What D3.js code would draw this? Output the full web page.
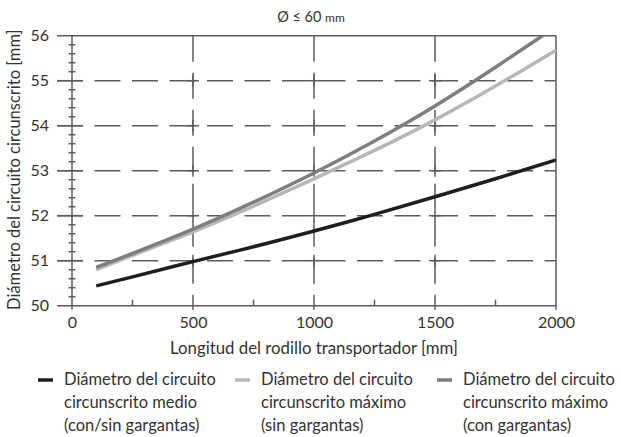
<!DOCTYPE html>
<html>
<head>
<meta charset="utf-8">
<script src="https://cdn.jsdelivr.net/npm/d3@7"></script>
<style>
  body { margin: 0; background: #fff; }
  text { font-family: Lato, "Open Sans", sans-serif; fill: #333; }
</style>
</head>
<body>
<div id="chart"></div>
<script>
const fig_width = 621
const fig_height = 437

// roller length [mm]
let lengths = [100, 250, 500, 750, 1000, 1250, 1500, 1750, 2000]
// circumscribed circle diameter [mm]
let medio = [50.44, 50.64, 50.98, 51.31, 51.66, 52.03, 52.42, 52.82, 53.24]
let max_sin = [50.80, 51.12, 51.64, 52.21, 52.82, 53.45, 54.13, 54.88, 55.68]
let max_con = [50.85, 51.16, 51.70, 52.30, 52.95, 53.66, 54.44, 55.30, 56.20]

let x_ticks = [0, 500, 1000, 1500, 2000]
let x_minor = [250, 750, 1250, 1750]
let y_ticks = [50, 51, 52, 53, 54, 55, 56]

let series = [
    {name: ['Diámetro del circuito', 'circunscrito medio', '(con/sin gargantas)'], values: medio, colour: '#1e1e1e'},
    {name: ['Diámetro del circuito', 'circunscrito máximo', '(sin gargantas)'], values: max_sin, colour: '#b7b7b7'},
    {name: ['Diámetro del circuito', 'circunscrito máximo', '(con gargantas)'], values: max_con, colour: '#7e7e7e'}
]

let grid_colour = '#5c5c5c'

let x = d3.scaleLinear().domain([0, 2000]).range([72, 556])
let y = d3.scaleLinear().domain([50, 56]).range([305.7, 35.7])
let box_left = 57

let fig = d3.select('#chart')
    .append('svg')
    .attr('width', fig_width)
    .attr('height', fig_height)

fig.append('clipPath').attr('id', 'plotclip')
    .append('rect')
    .attr('x', box_left).attr('y', y(56))
    .attr('width', x(2000) - box_left).attr('height', y(50) - y(56))

// dashed grid
fig.append('g').selectAll('line.hgrid')
    .data(y_ticks.slice(1, -1))
    .join('line')
    .attr('class', 'hgrid')
    .attr('x1', box_left).attr('x2', x(2000))
    .attr('y1', d => y(d)).attr('y2', d => y(d))
    .attr('stroke', grid_colour).attr('stroke-width', 1.5)
    .attr('stroke-dasharray', '26,11.5')

fig.append('g').selectAll('line.vgrid')
    .data(x_ticks.slice(1, -1))
    .join('line')
    .attr('class', 'vgrid')
    .attr('x1', d => x(d)).attr('x2', d => x(d))
    .attr('y1', y(56)).attr('y2', y(50) + 4)
    .attr('stroke', grid_colour).attr('stroke-width', 1.5)
    .attr('stroke-dasharray', '26,11')

// little crosses where the grid lines meet
let crossings = []
x_ticks.slice(1, -1).forEach(a => y_ticks.slice(1, -1).forEach(b => crossings.push([a, b])))
let crossG = fig.append('g')
crossG.selectAll('line.ch')
    .data(crossings)
    .join('line')
    .attr('x1', d => x(d[0]) - 6).attr('x2', d => x(d[0]) + 6)
    .attr('y1', d => y(d[1])).attr('y2', d => y(d[1]))
    .attr('stroke', grid_colour).attr('stroke-width', 1.5)
crossG.selectAll('line.cv')
    .data(crossings)
    .join('line')
    .attr('x1', d => x(d[0])).attr('x2', d => x(d[0]))
    .attr('y1', d => y(d[1]) - 6).attr('y2', d => y(d[1]) + 6)
    .attr('stroke', grid_colour).attr('stroke-width', 1.5)

// frame: top, bottom and right, the y axis sits at x = 0
let frame = fig.append('g').attr('stroke', grid_colour).attr('stroke-width', 1.5)
frame.append('line').attr('x1', box_left).attr('x2', x(2000)).attr('y1', y(56)).attr('y2', y(56))
frame.append('line').attr('x1', box_left).attr('x2', x(2000)).attr('y1', y(50)).attr('y2', y(50))
frame.append('line').attr('x1', x(2000)).attr('x2', x(2000)).attr('y1', y(56)).attr('y2', y(50) + 4)
frame.append('line').attr('x1', x(0)).attr('x2', x(0)).attr('y1', y(56)).attr('y2', y(50) + 4)

// y minor ticks every 0.2
let y_minor = d3.range(50, 56.01, 0.2).filter(v => Math.abs(v - Math.round(v)) > 0.01)
frame.selectAll('line.yminor')
    .data(y_minor)
    .join('line')
    .attr('x1', x(0) - 3.5).attr('x2', x(0) + 3.5)
    .attr('y1', d => y(d)).attr('y2', d => y(d))

frame.selectAll('line.ymajor')
    .data(y_ticks.slice(1, -1))
    .join('line')
    .attr('x1', box_left).attr('x2', x(0) + 11)
    .attr('y1', d => y(d)).attr('y2', d => y(d))

frame.selectAll('line.xminor')
    .data(x_minor)
    .join('line')
    .attr('x1', d => x(d)).attr('x2', d => x(d))
    .attr('y1', y(50) - 6).attr('y2', y(50))

// tick labels through d3 axes, without their own lines
let xAxis = fig.append('g')
    .attr('transform', `translate(0,${y(50)})`)
    .call(d3.axisBottom(x).tickValues(x_ticks).tickFormat(d3.format('d')).tickSize(0).tickPadding(22))
let yAxis = fig.append('g')
    .attr('transform', `translate(${box_left},0)`)
    .call(d3.axisLeft(y).tickValues(y_ticks).tickFormat(d3.format('d')).tickSize(0).tickPadding(8))
for (let ax of [xAxis, yAxis]) {
    ax.select('.domain').remove()
    ax.selectAll('text').style('font-family', 'Lato, sans-serif').style('font-size', '16px').attr('fill', '#333')
}
xAxis.selectAll('text').attr('dy', 0)

// curves
let line = d3.line()
    .x((d, i) => x(lengths[i]))
    .y(d => y(d))
    .curve(d3.curveNatural)

fig.append('g').attr('clip-path', 'url(#plotclip)')
    .selectAll('path.curve')
    .data(series)
    .join('path')
    .attr('class', 'curve')
    .attr('d', s => line(s.values))
    .attr('fill', 'none')
    .attr('stroke', s => s.colour)
    .attr('stroke-width', 3.5)

// titles
let title = fig.append('text')
    .attr('x', 311).attr('y', 22)
    .attr('text-anchor', 'middle')
    .style('font-size', '14.5px')
title.append('tspan').text('Ø ≤ 60 ')
title.append('tspan').style('font-size', '12px').text('mm')

fig.append('text')
    .attr('x', 314).attr('y', 354)
    .attr('text-anchor', 'middle')
    .style('font-size', '16.8px')
    .text('Longitud del rodillo transportador [mm]')

fig.append('text')
    .attr('transform', `translate(20,${(y(50) + y(56)) / 2 - 1}) rotate(-90)`)
    .attr('text-anchor', 'middle')
    .style('font-size', '16.5px')
    .text('Diámetro del circuito circunscrito [mm]')

// legend
let legend_x = [38, 235, 437]
let legend = fig.append('g').selectAll('g.leg')
    .data(series)
    .join('g')
    .attr('transform', (d, i) => `translate(${legend_x[i]},0)`)
legend.append('line')
    .attr('x1', 0).attr('x2', 15)
    .attr('y1', 380).attr('y2', 380)
    .attr('stroke', d => d.colour)
    .attr('stroke-width', 3.5)
legend.selectAll('text')
    .data(d => d.name)
    .join('text')
    .attr('x', 26)
    .attr('y', (d, i) => 385 + i * 23)
    .style('font-size', '16.5px')
    .text(d => d)
</script>
</body>
</html>
